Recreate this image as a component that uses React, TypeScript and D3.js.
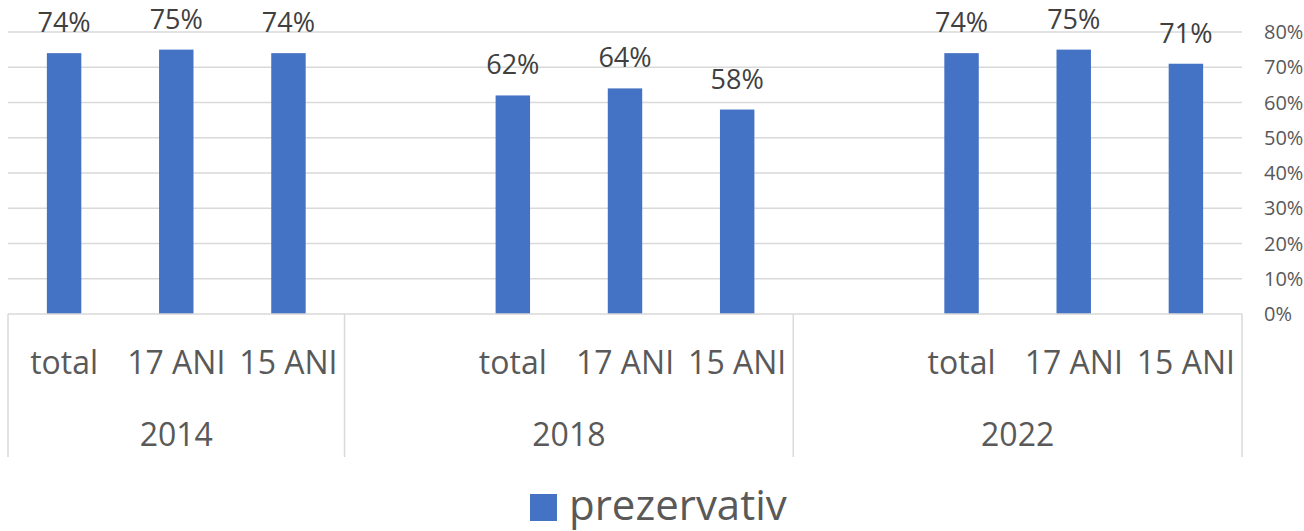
import React, { useEffect, useRef } from 'react';
import * as d3 from 'd3';

// data
const years = ['2014', '2018', '2022'];
const groups = ['total', '17 ANI', '15 ANI'];
const values2014 = [0.74, 0.75, 0.74];
const values2018 = [0.62, 0.64, 0.58];
const values2022 = [0.74, 0.75, 0.71];
const yTicks = [0, 0.1, 0.2, 0.3, 0.4, 0.5, 0.6, 0.7, 0.8];
const seriesName = 'prezervativ';

const W = 1304;
const H = 531;
const FONT = '"Open Sans", sans-serif';

export default function App() {
  const ref = useRef<SVGSVGElement>(null);

  useEffect(() => {
    const svg = d3.select(ref.current);
    svg.selectAll('*').remove();

    const allValues = [values2014, values2018, values2022];

    // slots: years after the first start with an empty category (as in the sheet)
    const slots: { key: string; year: string; label: string; value: number | null }[] = [];
    years.forEach((yr, yi) => {
      if (yi > 0) slots.push({ key: yr + '-blank', year: yr, label: '', value: null });
      groups.forEach((g, gi) => {
        slots.push({ key: yr + '-' + g, year: yr, label: g, value: allValues[yi][gi] });
      });
    });

    const left = 8, right = 1242, top = 32, bottom = 314;

    const x = d3.scaleBand()
      .domain(slots.map(d => d.key))
      .range([left, right])
      .paddingInner(0.693)
      .paddingOuter(0.693 / 2);

    const y = d3.scaleLinear().domain([0, 0.8]).range([bottom, top]);

    // gridlines
    svg.append('g')
      .selectAll('line')
      .data(yTicks.filter(t => t > 0))
      .enter().append('line')
      .attr('x1', left).attr('x2', right)
      .attr('y1', d => y(d)).attr('y2', d => y(d))
      .attr('stroke', '#d9d9d9')
      .attr('stroke-width', 1.5);

    // right-hand tick labels
    svg.append('g')
      .selectAll('text')
      .data(yTicks)
      .enter().append('text')
      .attr('x', 1264)
      .attr('y', d => y(d) + 7)
      .attr('font-family', FONT)
      .attr('font-size', 20)
      .attr('fill', '#595959')
      .text(d => d3.format('.0%')(d));

    const bars = slots.filter(d => d.value !== null);

    svg.append('g')
      .selectAll('rect')
      .data(bars)
      .enter().append('rect')
      .attr('x', d => x(d.key)!)
      .attr('y', d => y(d.value!))
      .attr('width', x.bandwidth())
      .attr('height', d => bottom - y(d.value!))
      .attr('fill', '#4472C4');

    // data labels
    svg.append('g')
      .selectAll('text')
      .data(bars)
      .enter().append('text')
      .attr('x', d => x(d.key)! + x.bandwidth() / 2)
      .attr('y', d => y(d.value!) - 21)
      .attr('text-anchor', 'middle')
      .attr('font-family', FONT)
      .attr('font-size', 27)
      .attr('fill', '#404040')
      .text(d => d3.format('.0%')(d.value!));

    // category axis
    svg.append('line')
      .attr('x1', left).attr('x2', right)
      .attr('y1', bottom).attr('y2', bottom)
      .attr('stroke', '#d9d9d9').attr('stroke-width', 1.5);

    svg.append('g')
      .selectAll('text')
      .data(bars)
      .enter().append('text')
      .attr('x', d => x(d.key)! + x.bandwidth() / 2)
      .attr('y', 374)
      .attr('text-anchor', 'middle')
      .attr('font-family', FONT)
      .attr('font-size', 32)
      .attr('fill', '#595959')
      .text(d => d.label);

    // year groups: extents and dividers
    const extents = years.map(yr => {
      const s = slots.filter(d => d.year === yr);
      const x0 = x(s[0].key)! - x.step() * x.paddingInner() / 2;
      const x1 = x(s[s.length - 1].key)! + x.bandwidth() + x.step() * x.paddingInner() / 2;
      return { yr, x0, x1 };
    });

    const dividers = [extents[0].x0, ...extents.map(e => e.x1)];
    svg.append('g')
      .selectAll('line')
      .data(dividers)
      .enter().append('line')
      .attr('x1', d => d).attr('x2', d => d)
      .attr('y1', bottom).attr('y2', 457)
      .attr('stroke', '#d9d9d9').attr('stroke-width', 1.5);

    svg.append('g')
      .selectAll('text')
      .data(extents)
      .enter().append('text')
      .attr('x', d => (d.x0 + d.x1) / 2)
      .attr('y', 446)
      .attr('text-anchor', 'middle')
      .attr('font-family', FONT)
      .attr('font-size', 32)
      .attr('fill', '#595959')
      .text(d => d.yr);

    // legend
    const legend = svg.append('g');
    legend.append('rect')
      .attr('x', 530).attr('y', 494)
      .attr('width', 27).attr('height', 27)
      .attr('fill', '#4472C4');
    legend.append('text')
      .attr('x', 569).attr('y', 520)
      .attr('font-family', FONT)
      .attr('font-size', 42)
      .attr('fill', '#595959')
      .text(seriesName);
  }, []);

  return <svg ref={ref} width={W} height={H} style={{ position: 'absolute', left: 0, top: 0, background: '#fff' }} />;
}
